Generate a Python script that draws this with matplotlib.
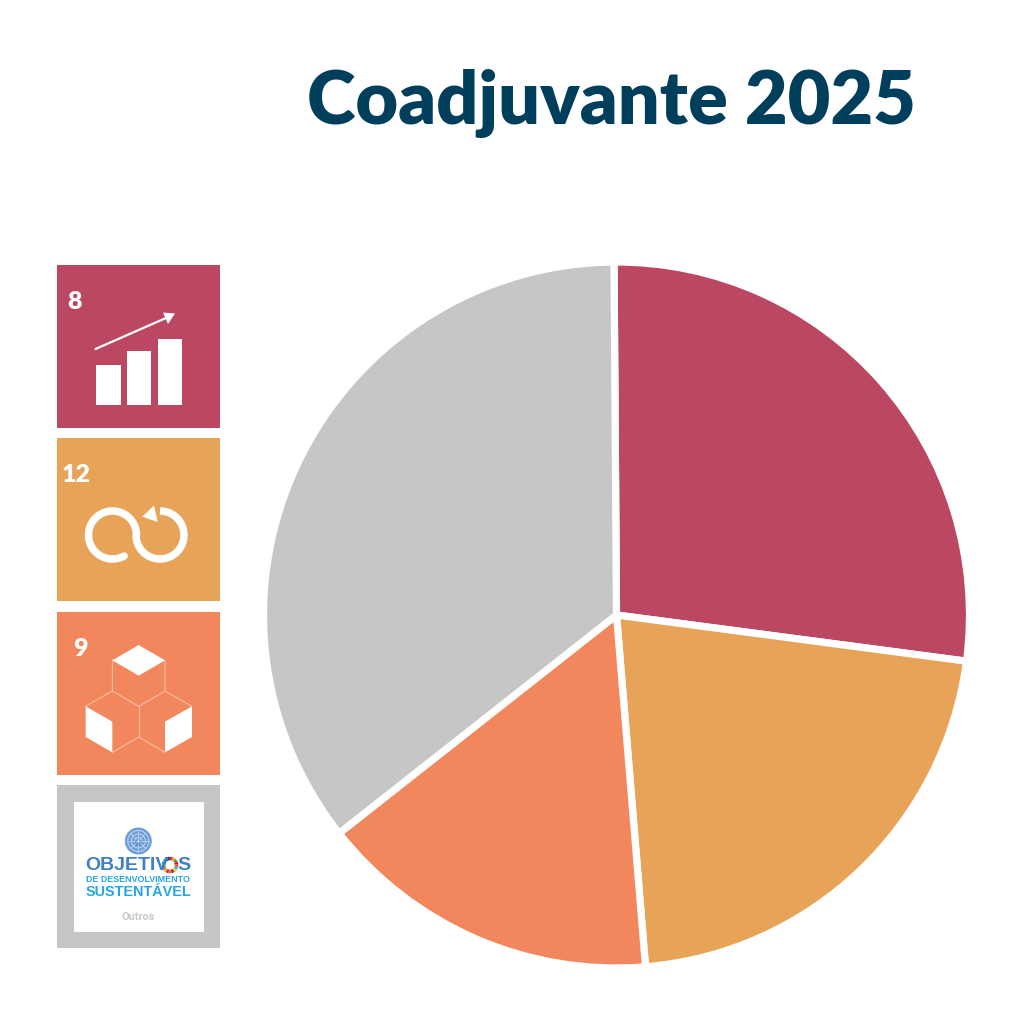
import numpy as np
import matplotlib
matplotlib.use("Agg")
from matplotlib import pyplot as plt
from matplotlib.patches import Rectangle, Polygon, Circle, Wedge, Arc

#########################################
## DATA
#########################################

title = "Coadjuvante 2025"
shares = [27.2, 21.6, 15.7, 35.5]
colors = ["#bb4762", "#e7a357", "#f2875d", "#c6c6c4"]
tile_labels = ["8", "12", "9"]
logo_lines = ["OBJETIV", "S", "DE DESENVOLVIMENTO", "SUSTENTÁVEL", "Outros"]
sdg_colors = ["#e5243b", "#dda63a", "#4c9f38", "#c5192d", "#ff3a21", "#26bde2",
              "#fcc30b", "#a21942", "#fd6925", "#dd1367", "#fd9d24", "#bf8b2e",
              "#3f7e44", "#0a97d9", "#56c02b", "#00689d", "#19486a"]

title_color = "#003f5c"
WHITE = "white"

fig = plt.figure(figsize=(10.24, 10.24), dpi=100)

#########################################
## PIE
#########################################

# pie has its own axes, 1 data unit = pie radius
cx, cy, r = 616.5, 615, 353
ax_pie = fig.add_axes([(cx - r) / 1024, 1 - (cy + r) / 1024, 2 * r / 1024, 2 * r / 1024])
ax_pie.pie(shares, colors=colors, startangle=90.4, counterclock=False, radius=1.0,
           wedgeprops={"edgecolor": WHITE, "linewidth": 5.2, "joinstyle": "miter"})
ax_pie.set_xlim(-1, 1)
ax_pie.set_ylim(-1, 1)
ax_pie.set_axis_off()

#########################################
## OVERLAY (pixel coordinates, y down)
#########################################

ax = fig.add_axes([0, 0, 1, 1])
ax.set_xlim(0, 1024)
ax.set_ylim(1024, 0)
ax.set_axis_off()
ax.patch.set_alpha(0)

ax.text(611, 124, title, ha="center", va="baseline", fontsize=53, fontweight="heavy",
        family="Lato", color=title_color)

tile_x, tile_w = 57, 163
tile_ys = [265, 438, 612, 785]
for y, c in zip(tile_ys, colors):
    ax.add_patch(Rectangle((tile_x, y), tile_w, tile_w, facecolor=c, edgecolor="none"))

label_pos = [(75, 309), (76, 482), (81, 656)]
for s, (x, y) in zip(tile_labels, label_pos):
    ax.text(x, y, s, ha="center", va="baseline", color=WHITE, fontsize=18,
            fontweight="heavy", family="Lato")

# icon 8: bars and arrow
for x0, x1, top in [(96, 120.5, 364.5), (127, 151, 351), (157.5, 182, 339)]:
    ax.add_patch(Rectangle((x0, top), x1 - x0, 404.5 - top, facecolor=WHITE, edgecolor="none"))
ax.plot([95.5, 166], [349, 318], color=WHITE, lw=1.6, solid_capstyle="round")
ax.add_patch(Polygon([(175, 313.5), (163, 312.5), (168, 324)], facecolor=WHITE, edgecolor="none"))

# icon 12: loop
ax.add_patch(Arc((112.5, 535), 48, 48, theta1=61, theta2=360, lw=5.4, color=WHITE, capstyle="round"))
ax.add_patch(Arc((160, 535), 48, 48, theta1=-90, theta2=180, lw=5.4, color=WHITE))
ax.add_patch(Polygon([(154, 505.5), (142.3, 516.7), (157.7, 522)], facecolor=WHITE, edgecolor="none"))

# icon 9: cubes
def z(points):
    return [(x / 3 + 50, y / 3 + 605) for x, y in points]

for pts in [[(187, 166), (266, 120), (345, 166), (266, 212)],
            [(107, 304), (187, 350), (187, 442), (107, 396)],
            [(345, 350), (426, 304), (426, 396), (345, 442)]]:
    ax.add_patch(Polygon(z(pts), facecolor=WHITE, edgecolor="none"))
for seg in [[(187, 166), (187, 258), (266, 304), (345, 258), (345, 166)],
            [(107, 304), (187, 258)], [(345, 258), (426, 304)],
            [(266, 304), (266, 396)], [(187, 442), (266, 396), (345, 442)]]:
    xs, ys = zip(*z(seg))
    ax.plot(xs, ys, color="#f9c3ad", lw=0.7)

# SDG logo tile
ax.add_patch(Rectangle((74, 802), 129.5, 129.5, facecolor=WHITE, edgecolor="none"))

# UN emblem
ex, ey = 138.3, 841
ax.add_patch(Circle((ex, ey), 13.5, facecolor="#6f9fd8", edgecolor="none"))
for rad in [10.5, 7, 3.5]:
    ax.add_patch(Circle((ex, ey), rad, facecolor="none", edgecolor="#dbe7f6", lw=0.5))
for a in np.arange(0, 180, 45):
    t = np.radians(a)
    ax.plot([ex - 10.5 * np.cos(t), ex + 10.5 * np.cos(t)],
            [ey - 10.5 * np.sin(t), ey + 10.5 * np.sin(t)], color="#dbe7f6", lw=0.4)
ax.add_patch(Circle((ex, ey + 1), 3.5, facecolor="#4a84c9", edgecolor="none"))

blue = "#4081c3"
sky = "#26a6e0"
ax.text(85.5, 865, logo_lines[0], ha="left", va="center", color=blue, fontsize=14,
        fontweight="bold", family="Liberation Sans")
ax.text(184, 865, logo_lines[1], ha="center", va="center", color=blue, fontsize=14,
        fontweight="bold", family="Liberation Sans")
wheel = 360 / len(sdg_colors)
for i, c in enumerate(sdg_colors):
    ax.add_patch(Wedge((170, 865), 8.3, i * wheel - 90, (i + 1) * wheel - 90 - 1, width=3.6,
                       facecolor=c, edgecolor="none"))
ax.text(137.5, 879, logo_lines[2], ha="center", va="center", color=sky, fontsize=6.4,
        fontweight="bold", family="Liberation Sans")
ax.text(138, 891.5, logo_lines[3], ha="center", va="center", color=sky, fontsize=10.4,
        fontweight="bold", family="Liberation Sans")
ax.text(138.5, 917.5, logo_lines[4], ha="center", va="center", color="#c8c8c8", fontsize=7.8,
        fontweight="bold", family="Roboto")

fig.savefig("out.png", dpi=100)
